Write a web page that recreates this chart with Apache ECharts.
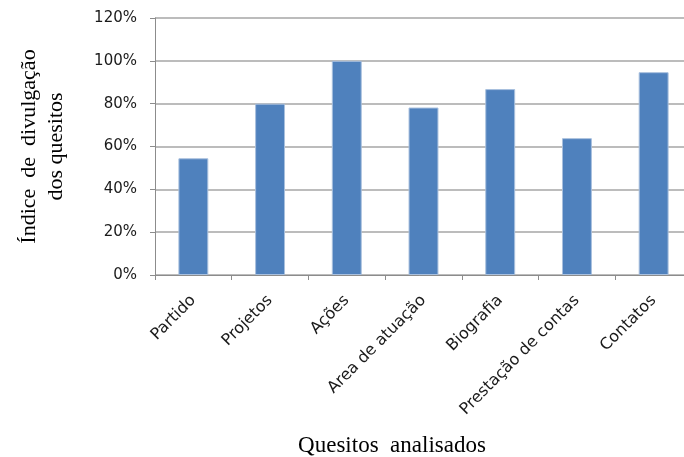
<!DOCTYPE html>
<html>
<head>
<meta charset="utf-8">
<script src="https://cdn.jsdelivr.net/npm/echarts@6/dist/echarts.min.js"></script>
<style>
  html, body { margin: 0; padding: 0; background: #fff; }
  #chart { width: 684px; height: 457px; }
</style>
</head>
<body>
<div id="chart"></div>
<script>
// Disclosure index per analysed item (percent)
const categories = ['Partido', 'Projetos', 'Ações', 'Area de atuação', 'Biografia', 'Prestação de contas', 'Contatos'];
const values = [54.5, 80, 100, 78.2, 86.8, 63.9, 94.7];
const yTicks = [0, 20, 40, 60, 80, 100, 120];

const chart = echarts.init(document.getElementById('chart'));
const labelFont = 'DejaVu Sans';
const titleFont = 'Liberation Serif';

chart.setOption({
  animation: false,
  grid: {
    left: 155, right: -8, top: 18, bottom: 182,
    containLabel: false, outerBoundsMode: 'none'
  },
  xAxis: {
    type: 'category',
    data: categories,
    boundaryGap: true,
    name: 'Quesitos  analisados',
    nameLocation: 'middle',
    nameGap: 159,
    nameTextStyle: { fontFamily: titleFont, fontSize: 23, color: '#000', padding: [0, 63, 0, 0] },
    axisLine: { lineStyle: { color: '#8c8c8c', width: 1 } },
    axisTick: { show: true, length: 5, lineStyle: { color: '#8c8c8c' } },
    axisLabel: {
      rotate: 45, interval: 0, margin: 23,
      fontFamily: labelFont, fontSize: 16, color: '#1a1a1a'
    }
  },
  yAxis: {
    type: 'value',
    min: yTicks[0], max: yTicks[yTicks.length - 1], interval: 20,
    name: 'Índice  de  divulgação\ndos quesitos',
    nameLocation: 'middle',
    nameRotate: 90,
    nameGap: 85,
    nameTextStyle: { fontFamily: titleFont, fontSize: 22, color: '#000', lineHeight: 27, align: 'center' },
    axisLine: { show: true, lineStyle: { color: '#8c8c8c', width: 1 } },
    axisTick: { show: true, length: 5, lineStyle: { color: '#8c8c8c' } },
    splitLine: { show: true, lineStyle: { color: '#a6a6a6', width: 1.5 } },
    axisLabel: {
      margin: 18,
      formatter: v => v + '%',
      fontFamily: labelFont, fontSize: 15, color: '#1a1a1a'
    }
  },
  series: [{
    type: 'bar',
    data: values,
    barWidth: '39%',
    itemStyle: { color: '#4f81bd', borderColor: '#a9c0de', borderWidth: 1 }
  }]
});
</script>
</body>
</html>
